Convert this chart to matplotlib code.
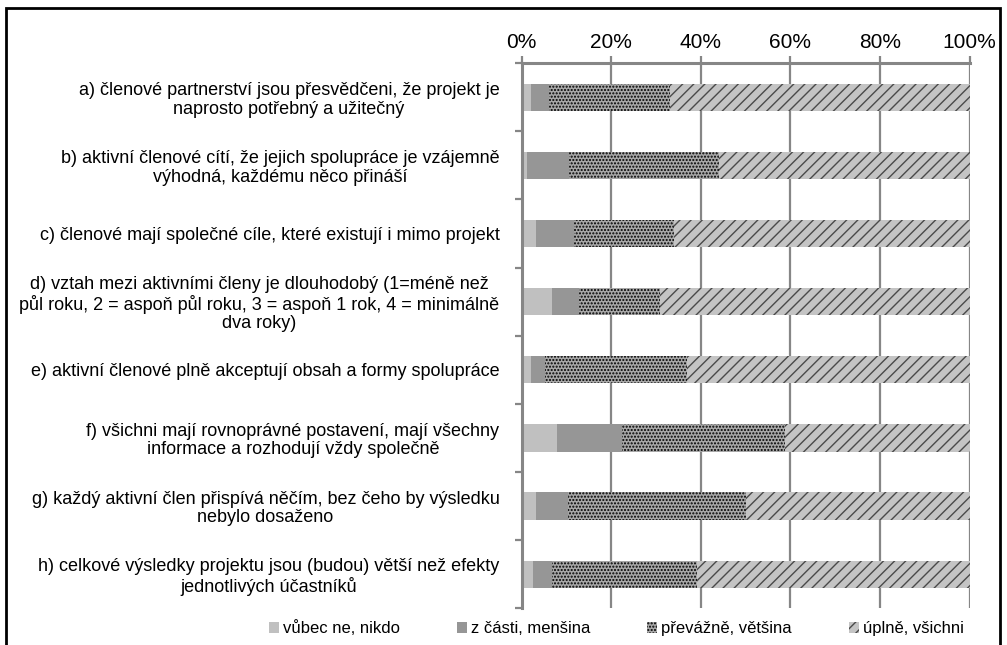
import numpy as np
import matplotlib.pyplot as plt
from matplotlib.patches import Rectangle

plt.rcParams['font.family'] = ['Liberation Sans', 'DejaVu Sans']
plt.rcParams['hatch.linewidth'] = 1.0

# ------------------------- data --------------------------
kategorie = [
    "a) členové partnerství jsou přesvědčeni, že projekt je\nnaprosto potřebný a užitečný",
    "b) aktivní členové cítí, že jejich spolupráce je vzájemně\nvýhodná, každému něco přináší",
    "c) členové mají společné cíle, které existují i mimo projekt",
    "d) vztah mezi aktivními členy je dlouhodobý (1=méně než\npůl roku, 2 = aspoň půl roku, 3 = aspoň 1 rok, 4 = minimálně\ndva roky)",
    "e) aktivní členové plně akceptují obsah a formy spolupráce",
    "f) všichni mají rovnoprávné postavení, mají všechny\ninformace a rozhodují vždy společně",
    "g) každý aktivní člen přispívá něčím, bez čeho by výsledku\nnebylo dosaženo",
    "h) celkové výsledky projektu jsou (budou) větší než efekty\njednotlivých účastníků",
]
vubec_ne = [2.2, 1.3, 3.3, 6.7, 2.2, 7.8, 3.3, 2.5]
z_casti = [4.0, 9.2, 8.3, 6.2, 3.1, 14.7, 7.1, 4.2]
prevazne = [26.8, 33.5, 22.5, 18.0, 31.7, 36.2, 39.7, 32.4]
uplne = [67.0, 56.0, 65.9, 69.1, 63.0, 41.3, 49.9, 60.9]
legenda = ["vůbec ne, nikdo", "z části, menšina", "převážně, většina", "úplně, všichni"]
x_ticks = [0, 20, 40, 60, 80, 100]

# ------------------------- figure --------------------------
fig = plt.figure(figsize=(10.07, 6.45), dpi=100)
ax = fig.add_axes([0.518, 0.057, 0.445, 0.845])

grey = '#868686'
y = np.arange(len(kategorie))
serie = [vubec_ne, z_casti, prevazne, uplne]
styly = [
    dict(color='#c0c0c0', hatch=None, edgecolor='#c0c0c0'),
    dict(color='#969696', hatch=None, edgecolor='#969696'),
    dict(color='#a8a8a8', hatch='.....', edgecolor='black'),
    dict(color='#c4c4c4', hatch='///', edgecolor='#4a4a4a'),
]

ax.set_axisbelow(True)
for v in x_ticks:
    ax.axvline(v, color=grey, lw=1.6, zorder=0)

left = np.zeros(len(kategorie))
handles = []
for vals, st in zip(serie, styly):
    vals = np.array(vals)
    h = ax.barh(y, vals, left=left, height=0.4, color=st['color'],
                hatch=st['hatch'], edgecolor=st['edgecolor'], linewidth=0, zorder=2)
    handles.append(h)
    left = left + vals

ax.set_xlim(0, 100)
ax.set_ylim(len(kategorie) - 0.5, -0.5)
ax.xaxis.tick_top()
ax.set_xticks(x_ticks)
ax.set_xticklabels([f"{v}%" for v in x_ticks], fontsize=15)
ax.tick_params(axis='x', direction='out', length=5, width=1.6, color=grey, pad=3)

ax.set_yticks(y)
ax.set_yticklabels(kategorie, fontsize=13, multialignment='center', linespacing=1.1)
ax.tick_params(axis='y', which='major', length=0, pad=16)
ax.set_yticks(np.arange(-0.5, len(kategorie)), minor=True)
ax.tick_params(axis='y', which='minor', direction='out', length=5, width=1.6, color=grey)

for s in ['right', 'bottom']:
    ax.spines[s].set_visible(False)
for s in ['left', 'top']:
    ax.spines[s].set_color(grey)
    ax.spines[s].set_linewidth(2.2)

leg = fig.legend(handles, legenda, loc='lower center', bbox_to_anchor=(0.612, -0.01),
                 ncol=4, frameon=False, fontsize=12, handlelength=0.6, handleheight=0.6,
                 handletextpad=0.25, columnspacing=3.4)

# ramecek kolem grafu
fig.patches.append(Rectangle((6 / 1007, -0.1), 994 / 1007, 1.1 - 8 / 645, transform=fig.transFigure,
                             fill=False, edgecolor='black', linewidth=2))

fig.savefig('out.png', dpi=100)
